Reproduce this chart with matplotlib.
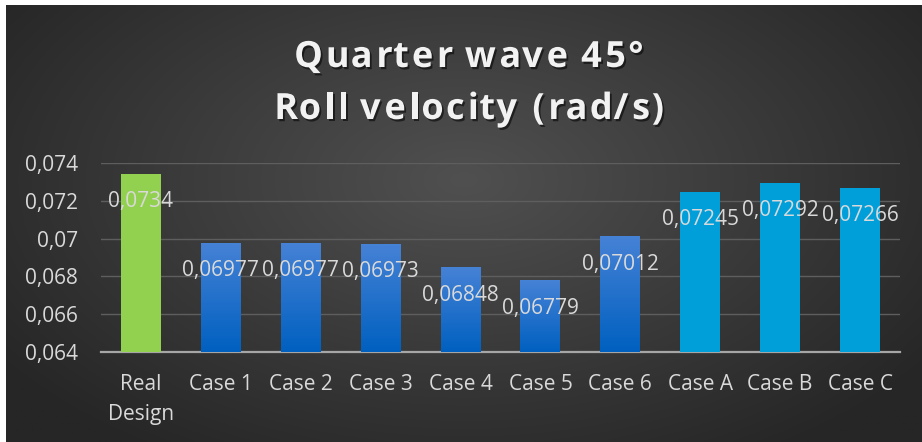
import numpy as np
import matplotlib
matplotlib.use("Agg")
import matplotlib.pyplot as plt
from matplotlib import patheffects as pe
from matplotlib.font_manager import FontProperties, findfont, get_font
from matplotlib.ticker import FixedLocator

categories = ["Real\nDesign", "Case 1", "Case 2", "Case 3", "Case 4", "Case 5",
              "Case 6", "Case A", "Case B", "Case C"]
values = [0.0734, 0.06977, 0.06977, 0.06973, 0.06848, 0.06779, 0.07012,
          0.07245, 0.07292, 0.07266]
value_labels = ["0,0734", "0,06977", "0,06977", "0,06973", "0,06848", "0,06779",
                "0,07012", "0,07245", "0,07292", "0,07266"]
groups = ["real", "case", "case", "case", "case", "case", "case", "alt", "alt", "alt"]
y_ticks = [0.064, 0.066, 0.068, 0.070, 0.072, 0.074]
y_tick_labels = ["0,064", "0,066", "0,068", "0,07", "0,072", "0,074"]
title_lines = ["Quarter wave 45°", "Roll velocity (rad/s)"]

FAMILY = "Open Sans"
plt.rcParams["font.family"] = [FAMILY, "DejaVu Sans"]
TXT = "#d9d9d9"
FS = 15
DPI = 100

W, H = 922, 442
fig = plt.figure(figsize=(W / DPI, H / DPI), dpi=DPI)
fig.patch.set_facecolor("white")

# radial dark background panel
bg = fig.add_axes([6 / W, 0, (921 - 6) / W, (442 - 5) / H])
bg.set_axis_off()
yy, xx = np.mgrid[0:1:300j, 0:1:600j]
r = np.sqrt(((xx - 0.5) / 0.62) ** 2 + ((yy - 0.6) / 0.75) ** 2)
r = np.clip(r, 0, 1)
inner = np.array([80, 80, 80]) / 255
outer = np.array([38, 38, 38]) / 255
img = inner[None, None, :] * (1 - r[..., None]) + outer[None, None, :] * r[..., None]
bg.imshow(img, aspect="auto", extent=[0, 1, 0, 1], origin="lower")
bg.set_xlim(0, 1)
bg.set_ylim(0, 1)

# plot area
x0, x1 = 101, 900
ytop, ybot = 162.7, 352.3
ymin, ymax = 0.064, 0.074
ax = fig.add_axes([x0 / W, 1 - ybot / H, (x1 - x0) / W, (ybot - ytop) / H])
ax.set_facecolor("none")
for s in ["top", "right", "left"]:
    ax.spines[s].set_visible(False)
ax.spines["bottom"].set_color("#a6a6a6")
ax.spines["bottom"].set_linewidth(1.6)
ax.yaxis.set_major_locator(FixedLocator(y_ticks))
ax.set_yticklabels(y_tick_labels)
ax.grid(axis="y", color="#5e5e5e", linewidth=1.0)
ax.set_axisbelow(True)
ax.tick_params(axis="y", length=0, pad=16.5, labelsize=FS, labelcolor=TXT)
ax.set_xticks(range(len(categories)))
ax.set_xticklabels(categories, linespacing=1.55)
ax.tick_params(axis="x", length=0, pad=15.5, labelsize=FS, labelcolor=TXT)

solid = {"real": "#92d050", "alt": "#009fda"}
grad_top = np.array([70, 130, 214]) / 255
grad_bot = np.array([0, 96, 192]) / 255
shadow = [pe.SimplePatchShadow(offset=(0, -1), shadow_rgbFace="black", alpha=0.35), pe.Normal()]

bars = ax.bar(range(len(values)), [v - ymin for v in values], bottom=ymin, width=0.5,
              color=[solid.get(g, "#2a78d0") for g in groups], linewidth=0, zorder=3)
for b, g in zip(bars, groups):
    b.set_path_effects(shadow)
    if g == "case":
        bx, by = b.get_x(), b.get_y()
        bw, bh = b.get_width(), b.get_height()
        t = np.linspace(0, 1, 256)[:, None]
        grad = grad_bot[None, None, :] * (1 - t[..., None]) + grad_top[None, None, :] * t[..., None]
        grad = np.repeat(grad, 2, axis=1)
        im = ax.imshow(grad, extent=[bx, bx + bw, by, by + bh], origin="lower",
                       aspect="auto", zorder=4)
        im.set_clip_path(b)

ax.set_xlim(-0.5, len(categories) - 0.5)
ax.set_ylim(ymin, ymax)

for i, (v, lab) in enumerate(zip(values, value_labels)):
    ax.annotate(lab, (i, v), xytext=(0, -20), textcoords="offset points",
                ha="center", va="center", fontsize=FS, color=TXT, zorder=6)


def tracked_text(s, cx, baseline, size, width, **kw):
    """Draw a bold string centred at cx with extra letter spacing to fill width px."""
    prop = FontProperties(family=FAMILY, weight="bold", size=size)
    font = get_font(findfont(prop))
    font.set_size(size, DPI)
    adv, lsb = [], []
    for c in s:
        g = font.load_char(ord(c))
        adv.append(g.linearHoriAdvance / 65536)
        lsb.append(g.horiBearingX / 64)
    track = (width - sum(adv)) / (len(s) - 1)
    pen = cx - width / 2
    for c, a, l in zip(s, adv, lsb):
        if c != " ":
            fig.text((pen + l) / W, 1 - baseline / H, c, ha="left", va="baseline",
                     fontproperties=prop, **kw)
        pen += a + track


title_fx = [pe.withSimplePatchShadow(offset=(1.3, -1.6), shadow_rgbFace="black", alpha=0.55)]
tracked_text(title_lines[0], 467, 67, 26, 350, color="#f2f2f2", path_effects=title_fx)
tracked_text(title_lines[1], 467, 119, 26, 392, color="#f2f2f2", path_effects=title_fx)

fig.savefig("out.png", dpi=DPI, facecolor=fig.get_facecolor())
